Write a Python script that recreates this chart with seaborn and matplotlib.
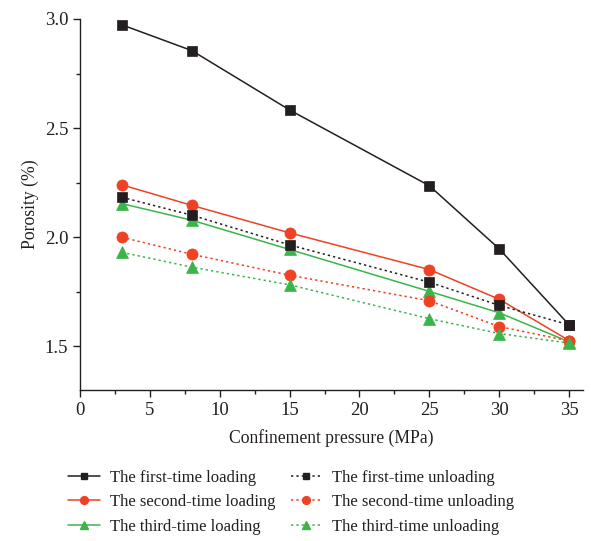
import matplotlib
matplotlib.use("Agg")
import matplotlib.pyplot as plt
import seaborn as sns
import pandas as pd
from matplotlib.ticker import MultipleLocator
from matplotlib.lines import Line2D

pressure = [3, 8, 15, 25, 30, 35]
first_loading = [2.973, 2.855, 2.583, 2.236, 1.947, 1.599]
second_loading = [2.240, 2.146, 2.020, 1.852, 1.716, 1.527]
third_loading = [2.154, 2.078, 1.944, 1.752, 1.654, 1.521]
first_unloading = [2.183, 2.101, 1.965, 1.794, 1.688, 1.599]
second_unloading = [2.000, 1.922, 1.826, 1.709, 1.591, 1.525]
third_unloading = [1.931, 1.863, 1.782, 1.627, 1.559, 1.515]

labels = ["The first-time loading", "The second-time loading", "The third-time loading",
          "The first-time unloading", "The second-time unloading", "The third-time unloading"]
series = [first_loading, second_loading, third_loading,
          first_unloading, second_unloading, third_unloading]

black = "#231f20"
red = "#ef4123"
green = "#3ab54a"
colors = [black, red, green, black, red, green]
markers = ["s", "o", "^", "s", "o", "^"]
msizes = [7, 8, 8, 7, 8, 8]
styles = ["-", "-", "-", (0, (1.5, 2)), (0, (1.5, 2)), (0, (1.5, 2))]

sns.set_style("ticks")
plt.rcParams["font.family"] = ["Liberation Serif", "DejaVu Serif"]
plt.rcParams["font.size"] = 12

fig = plt.figure(figsize=(5.91, 5.41), dpi=100)
ax = fig.add_axes([0.1354, 0.279, 0.8511, 0.686])

handles = []
for lab, vals, c, m, ms, ls in zip(labels, series, colors, markers, msizes, styles):
    df = pd.DataFrame({"x": pressure, "y": vals})
    sns.lineplot(data=df, x="x", y="y", ax=ax, color=c, marker=m, markersize=ms,
                 linestyle=ls, linewidth=1.1, markeredgecolor=c, markeredgewidth=0.5,
                 legend=False)
    handles.append(Line2D([], [], color=c, marker=m, markersize=ms * 0.7, linestyle=ls,
                          linewidth=1.1, markeredgecolor=c))

ax.set_xlim(0, 36)
ax.set_ylim(1.3, 3.0)
ax.xaxis.set_major_locator(MultipleLocator(5))
ax.xaxis.set_minor_locator(MultipleLocator(2.5))
ax.yaxis.set_major_locator(MultipleLocator(0.5))
ax.yaxis.set_minor_locator(MultipleLocator(0.25))
ax.tick_params(which="major", direction="out", length=5, width=1, labelsize=13.5, colors=black)
ax.tick_params(which="minor", direction="out", length=3, width=1, colors=black)
for s in ["top", "right"]:
    ax.spines[s].set_visible(False)
for s in ["left", "bottom"]:
    ax.spines[s].set_linewidth(1)
    ax.spines[s].set_color(black)
ax.set_xlabel("Confinement pressure (MPa)", fontsize=12.7, color=black, labelpad=7)
ax.set_ylabel("Porosity (%)", fontsize=12.7, color=black, labelpad=4)

fig.legend(handles, labels, ncol=2, loc="upper center", bbox_to_anchor=(0.493, 0.159),
           frameon=False, fontsize=12, handlelength=1.9, columnspacing=0.9,
           labelspacing=0.5, handletextpad=0.6, labelcolor=black)

fig.savefig("out.png", dpi=100)
